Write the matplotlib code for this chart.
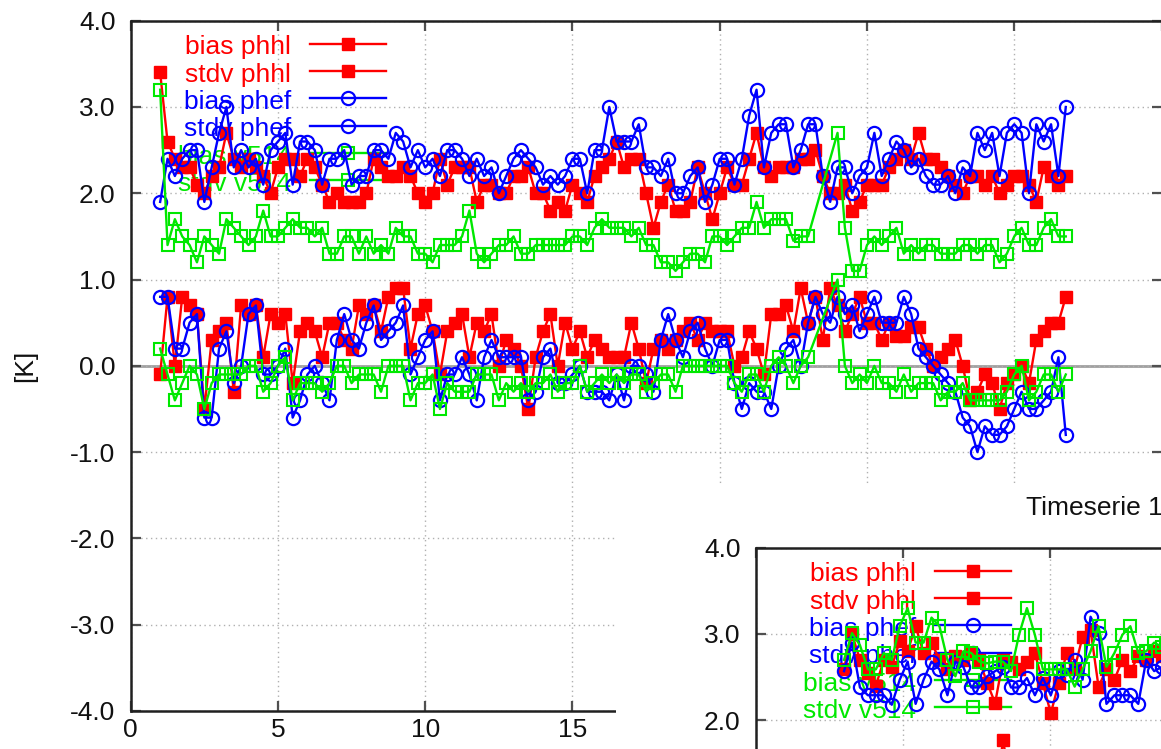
import numpy as np
import matplotlib
matplotlib.use("Agg")
import matplotlib.pyplot as plt
from matplotlib.patches import Rectangle
from matplotlib.lines import Line2D

plt.rcParams['font.family'] = ['Liberation Sans', 'DejaVu Sans']

# ---------------- data: main time series (6-hourly, days 1..31.75) ----------------
labels = ["bias phhl", "stdv phhl", "bias phef", "stdv phef", "bias v514", "stdv v514"]
days = 1 + 0.25 * np.arange(124)
x_ticks = [0, 5, 10, 15, 20, 25, 30, 35]
y_ticks = [-4.0, -3.0, -2.0, -1.0, 0.0, 1.0, 2.0, 3.0, 4.0]

bias_phhl = [-0.1, 0.8, 0.0, 0.8, 0.7, 0.6, -0.5, 0.3, 0.4, 0.5,
             -0.3, 0.7, 0.6, 0.7, 0.1, 0.6, 0.5, 0.6, -0.2, 0.4,
             0.5, 0.4, 0.1, 0.5, 0.5, 0.3, 0.2, 0.7, 0.6, 0.7,
             0.4, 0.8, 0.9, 0.9, 0.2, 0.6, 0.7, 0.4, -0.1, 0.4,
             0.5, 0.6, 0.1, 0.5, 0.4, 0.6, 0.0, 0.3, 0.2, 0.0,
             -0.5, 0.1, 0.4, 0.6, 0.0, 0.5, 0.2, 0.4, 0.1, 0.3,
             0.2, 0.1, 0.1, 0.1, 0.5, 0.2, -0.2, 0.2, 0.3, 0.2,
             0.3, 0.4, 0.5, 0.3, 0.5, 0.4, 0.4, 0.4, 0.0, 0.1,
             0.4, 0.2, -0.1, 0.6, 0.6, 0.7, 0.4, 0.9, 0.5, 0.8,
             0.3, 0.9, 0.7, 0.4, 0.6, 0.8, 0.5, 0.5, 0.3, 0.5,
             0.35, 0.35, 0.45, 0.45, 0.2, 0.0, 0.1, 0.2, 0.3, 0.0,
             -0.4, -0.3, -0.1, -0.2, -0.5, -0.2, -0.1, 0.0, -0.2, 0.3,
             0.4, 0.5, 0.5, 0.8]

stdv_phhl = [3.4, 2.6, 2.4, 2.3, 2.3, 2.1, 2.0, 2.2, 2.3, 2.7,
             2.4, 2.3, 2.4, 2.3, 2.2, 2.0, 2.3, 2.4, 2.4, 2.2,
             2.4, 2.3, 2.1, 1.9, 2.0, 1.9, 1.9, 1.9, 2.0, 2.4,
             2.3, 2.2, 2.2, 2.3, 2.2, 2.0, 1.9, 2.0, 2.4, 2.1,
             2.3, 2.3, 2.3, 1.9, 2.1, 2.1, 2.0, 2.0, 2.2, 2.2,
             2.3, 2.0, 2.0, 1.8, 1.9, 1.8, 2.1, 2.0, 1.9, 2.2,
             2.3, 2.4, 2.6, 2.3, 2.4, 2.4, 2.0, 1.6, 1.9, 2.1,
             1.8, 1.8, 1.9, 2.3, 2.0, 1.7, 2.0, 2.3, 2.1, 2.1,
             2.4, 2.7, 2.3, 2.2, 2.3, 2.3, 2.3, 2.4, 2.4, 2.5,
             2.2, 2.0, 2.0, 2.1, 1.8, 1.9, 2.1, 2.1, 2.1, 2.3,
             2.4, 2.5, 2.4, 2.7, 2.4, 2.4, 2.3, 2.2, 2.1, 2.0,
             2.2, 2.2, 2.1, 2.2, 2.0, 2.1, 2.2, 2.2, 2.1, 1.9,
             2.3, 2.2, 2.1, 2.2]

bias_phef = [0.8, 0.8, 0.2, 0.2, 0.5, 0.6, -0.6, -0.6, 0.2, 0.4,
             -0.2, 0.0, 0.6, 0.7, -0.1, -0.1, 0.0, 0.2, -0.6, -0.4,
             -0.1, 0.0, -0.2, -0.4, 0.3, 0.6, 0.3, 0.2, 0.5, 0.7,
             0.3, 0.4, 0.5, 0.7, -0.1, 0.1, 0.3, 0.4, -0.4, -0.1,
             -0.1, 0.1, -0.1, -0.4, 0.1, 0.3, 0.1, 0.1, 0.1, 0.1,
             -0.4, -0.3, 0.1, 0.2, -0.2, -0.2, -0.1, 0.0, -0.3, -0.3,
             -0.3, -0.4, -0.1, -0.4, 0.0, 0.0, -0.1, -0.3, 0.3, 0.6,
             0.3, 0.1, 0.4, 0.5, 0.2, 0.0, 0.3, 0.3, -0.2, -0.5,
             -0.2, -0.3, -0.3, -0.5, 0.0, 0.2, 0.3, 0.0, 0.5, 0.8,
             0.6, 0.5, 0.8, 0.6, 0.7, 0.4, 0.6, 0.8, 0.5, 0.5,
             0.5, 0.8, 0.6, 0.2, 0.1, 0.0, -0.1, -0.2, -0.3, -0.6,
             -0.7, -1.0, -0.7, -0.8, -0.8, -0.7, -0.5, -0.3, -0.5, -0.5,
             -0.4, -0.3, 0.1, -0.8]

stdv_phef = [1.9, 2.4, 2.2, 2.4, 2.5, 2.5, 1.9, 2.3, 2.7, 3.0,
             2.3, 2.5, 2.3, 2.4, 2.1, 2.5, 2.6, 2.7, 2.1, 2.6,
             2.6, 2.5, 2.1, 2.4, 2.4, 2.5, 2.1, 2.2, 2.2, 2.5,
             2.5, 2.4, 2.7, 2.6, 2.3, 2.5, 2.3, 2.4, 2.2, 2.5,
             2.5, 2.4, 2.2, 2.4, 2.2, 2.3, 2.0, 2.2, 2.4, 2.5,
             2.4, 2.3, 2.1, 2.2, 2.1, 2.2, 2.4, 2.4, 2.0, 2.5,
             2.5, 3.0, 2.6, 2.6, 2.6, 2.8, 2.3, 2.3, 2.2, 2.4,
             2.0, 2.0, 2.2, 2.3, 1.9, 2.1, 2.4, 2.4, 2.1, 2.4,
             2.9, 3.2, 2.3, 2.7, 2.8, 2.8, 2.3, 2.5, 2.8, 2.8,
             2.2, 1.9, 2.3, 2.3, 2.0, 2.2, 2.3, 2.7, 2.2, 2.4,
             2.6, 2.5, 2.3, 2.4, 2.2, 2.1, 2.1, 2.2, 2.0, 2.3,
             2.2, 2.7, 2.5, 2.7, 2.2, 2.7, 2.8, 2.7, 2.0, 2.8,
             2.6, 2.8, 2.2, 3.0]

# v514 has no data for three time steps (None)
bias_v514 = [0.2, -0.1, -0.4, -0.2, 0.0, -0.1, -0.5, -0.2, -0.1, -0.1,
             -0.1, -0.1, 0.0, 0.0, -0.3, -0.2, 0.0, 0.1, -0.4, -0.2,
             -0.2, -0.2, -0.3, -0.2, 0.0, 0.0, -0.2, -0.1, -0.1, -0.1,
             -0.3, 0.0, 0.0, 0.0, -0.4, -0.2, -0.2, -0.1, -0.5, -0.2,
             -0.3, -0.3, -0.3, -0.1, -0.1, -0.1, -0.4, -0.2, -0.3, -0.2,
             -0.3, -0.2, -0.2, -0.1, -0.3, -0.2, -0.2, 0.0, -0.3, -0.2,
             -0.1, -0.2, -0.1, -0.2, -0.1, -0.1, -0.3, -0.2, -0.1, -0.1,
             -0.3, 0.0, 0.0, 0.0, 0.0, 0.0, 0.0, 0.0, -0.2, -0.3,
             -0.1, -0.1, -0.3, 0.0, 0.1, 0.0, -0.2, 0.0, 0.1, None,
             None, None, 1.0, 0.0, -0.2, -0.1, -0.2, 0.0, -0.2, -0.2,
             -0.3, -0.1, -0.3, -0.2, -0.2, -0.2, -0.4, -0.3, -0.3, -0.2,
             -0.4, -0.4, -0.4, -0.4, -0.4, -0.3, -0.1, 0.0, -0.4, -0.3,
             -0.1, -0.1, -0.3, -0.1]

stdv_v514 = [3.2, 1.4, 1.7, 1.5, 1.4, 1.2, 1.5, 1.4, 1.3, 1.7,
             1.6, 1.5, 1.4, 1.5, 1.8, 1.5, 1.5, 1.6, 1.7, 1.6,
             1.6, 1.5, 1.6, 1.3, 1.3, 1.5, 1.5, 1.3, 1.5, 1.3,
             1.4, 1.3, 1.6, 1.5, 1.5, 1.3, 1.3, 1.2, 1.4, 1.4,
             1.4, 1.5, 1.8, 1.3, 1.2, 1.3, 1.4, 1.4, 1.5, 1.3,
             1.3, 1.4, 1.4, 1.4, 1.4, 1.4, 1.5, 1.5, 1.4, 1.6,
             1.7, 1.6, 1.6, 1.6, 1.5, 1.6, 1.4, 1.4, 1.2, 1.2,
             1.1, 1.2, 1.3, 1.3, 1.2, 1.5, 1.5, 1.4, 1.5, 1.6,
             1.6, 1.9, 1.6, 1.7, 1.7, 1.7, 1.45, 1.5, 1.5, None,
             None, None, 2.7, 1.6, 1.1, 1.1, 1.4, 1.5, 1.4, 1.5,
             1.6, 1.3, 1.4, 1.3, 1.4, 1.4, 1.3, 1.3, 1.3, 1.4,
             1.4, 1.3, 1.4, 1.4, 1.2, 1.3, 1.5, 1.6, 1.4, 1.4,
             1.6, 1.7, 1.5, 1.5]

# ---------------- data: second (partly visible) time series chart ----------------
title2 = "Timeserie 1"
days2 = 3.0 + 0.27 * np.arange(41)
stdv_phhl2 = [2.6, 3.0, 2.7, 2.55, 2.4, 2.7, 2.62, 2.92, 2.8, 3.09,
              2.78, 2.9, 2.7, 2.6, 2.75, 2.7, 2.78, 2.7, 2.43, 2.2,
              2.7, 2.68, 2.59, 2.68, 2.78, 2.43, 2.08, 2.43, 2.78, 2.6,
              2.97, 3.05, 2.39, 2.59, 2.47, 2.7, 2.57, 2.74, 2.7, 2.8,
              2.75]
bias_phhl2 = [None] * 19 + [1.1, 1.77, 1.2] + [None] * 19
stdv_phef2 = [2.57, 2.9, 2.38, 2.29, 2.29, 2.29, 2.18, 2.47, 2.68, 2.19,
              2.47, 2.68, 2.59, 2.29, 2.68, 2.62, 2.38, 2.38, 2.51, 2.57,
              2.62, 2.38, 2.38, 2.49, 2.29, 2.49, 2.29, 2.57, 2.52, 2.7,
              2.47, 3.2, 3.01, 2.19, 2.29, 2.29, 2.29, 2.19, 2.7, 2.57,
              2.62]
stdv_v514_2 = [2.7, 3.01, 2.87, 2.59, 2.59, 2.78, 2.7, 3.09, 3.3, 2.9,
               2.9, 3.19, 3.09, 2.7, 2.51, 2.8, 2.78, 2.68, 2.66, 2.68,
               2.68, 2.57, 2.99, 3.3, 2.99, 2.59, 2.59, 2.59, 2.59, 2.39,
               2.59, 2.8, 3.09, 2.62, 2.78, 2.99, 3.09, 2.78, 2.8, 2.9,
               2.85]

# ---------------- styling ----------------
W, H, DPI = 1161, 749, 100
RED, BLUE, GREEN = '#ff0000', '#0000ff', '#00e800'
series_style = [
    dict(color=RED, marker='s', ms=8.5, mfc=RED, mec=RED, mew=1.0),
    dict(color=RED, marker='s', ms=8.5, mfc=RED, mec=RED, mew=1.0),
    dict(color=BLUE, marker='o', ms=9.5, mfc='none', mec=BLUE, mew=1.6),
    dict(color=BLUE, marker='o', ms=9.5, mfc='none', mec=BLUE, mew=1.6),
    dict(color=GREEN, marker='s', ms=9, mfc='none', mec=GREEN, mew=1.5),
    dict(color=GREEN, marker='s', ms=9, mfc='none', mec=GREEN, mew=1.5),
]
LW = 1.7
FS = 19

fig = plt.figure(figsize=(W / DPI, H / DPI), dpi=DPI)

AX_L, AX_T, AX_W, AX_H = 130.7, 20.7, 1030.8, 690.3
DX2, DY2 = 625.0, 527.0


def px_rect(left, top, width, height):
    return [left / W, 1 - (top + height) / H, width / W, height / H]


def style_axes(ax, xlab_shown, ylab_shown):
    ax.set_xlim(0, 35)
    ax.set_ylim(-4, 4)
    ax.set_xticks(x_ticks)
    ax.set_xticklabels([str(t) if t in xlab_shown else '' for t in x_ticks])
    ax.set_yticks(y_ticks)
    ax.set_yticklabels(['%.1f' % t if t in ylab_shown else '' for t in y_ticks])
    ax.tick_params(direction='in', length=7, width=1.6, color='#505050',
                   top=True, right=True, labelsize=FS, labelcolor='#111111')
    ax.tick_params(axis='y', pad=11)
    ax.tick_params(axis='x', pad=5)
    ax.grid(True, color='#b0b0b0', linestyle=(0, (1, 2.5)), lw=1.0, zorder=0)
    ax.set_axisbelow(True)
    ax.axhline(0, color='#a0a0a0', lw=2.0, zorder=0.5)
    for s in ax.spines.values():
        s.set_linewidth(1.8)
        s.set_color('#202020')
    ax.patch.set_alpha(0)


def plot_series(ax, x, y, st):
    x = np.asarray(x, dtype=float)
    y = np.array([np.nan if v is None else v for v in y], dtype=float)
    m = np.isfinite(y)
    ax.plot(x[m], y[m], lw=LW, zorder=3, **st)


def draw_legend(ax):
    row0, step = 43.8, 27.3
    for k, (lab, st) in enumerate(zip(labels, series_style)):
        y_px = row0 + step * k
        fy = 1 - (y_px - AX_T) / AX_H
        ax.text((291 - AX_L) / AX_W, fy - 10.5 / AX_H, lab, transform=ax.transAxes,
                ha='right', va='baseline', fontsize=FS, color=st['color'], zorder=1)
        ax.add_line(Line2D([(310 - AX_L) / AX_W, (386 - AX_L) / AX_W], [fy, fy],
                           transform=ax.transAxes, color=st['color'], lw=LW, zorder=1))
        mst = {k2: v for k2, v in st.items() if k2 != 'color'}
        ax.add_line(Line2D([(348 - AX_L) / AX_W], [fy], transform=ax.transAxes,
                           lw=0, zorder=1, **mst))


# ---- main chart ----
ax = fig.add_axes(px_rect(AX_L, AX_T, AX_W, AX_H))
ax.set_zorder(0)
style_axes(ax, xlab_shown=[0, 5, 10, 15], ylab_shown=y_ticks)
for y, st in zip([bias_phhl, stdv_phhl, bias_phef, stdv_phef, bias_v514, stdv_v514],
                 series_style):
    plot_series(ax, days, y, st)
draw_legend(ax)
fig.text(25 / W, 1 - 366 / H, '[K]', rotation=90, ha='center', va='center',
         fontsize=FS, color='#111111')

# ---- white area of the overlapping second image ----
cover_left, cover_top = 616.0, 485.0
fig.add_artist(Rectangle((cover_left / W, 0), 1 - cover_left / W, 1 - cover_top / H,
                         transform=fig.transFigure, facecolor='white',
                         edgecolor='none', zorder=1))

# ---- second chart (shifted copy of the layout, mostly outside the picture) ----
ax2 = fig.add_axes(px_rect(AX_L + DX2, AX_T + DY2, AX_W, AX_H))
ax2.set_zorder(2)
style_axes(ax2, xlab_shown=[], ylab_shown=[2.0, 3.0, 4.0])
plot_series(ax2, days2, bias_phhl2, series_style[0])
plot_series(ax2, days2, stdv_phhl2, series_style[1])
plot_series(ax2, days2, stdv_phef2, series_style[3])
plot_series(ax2, days2, stdv_v514_2, series_style[5])
draw_legend(ax2)
fig.text(1026 / W, 1 - 515 / H, title2, ha='left', va='baseline',
         fontsize=FS, color='#111111', zorder=3)

fig.savefig('out.png', dpi=DPI)
